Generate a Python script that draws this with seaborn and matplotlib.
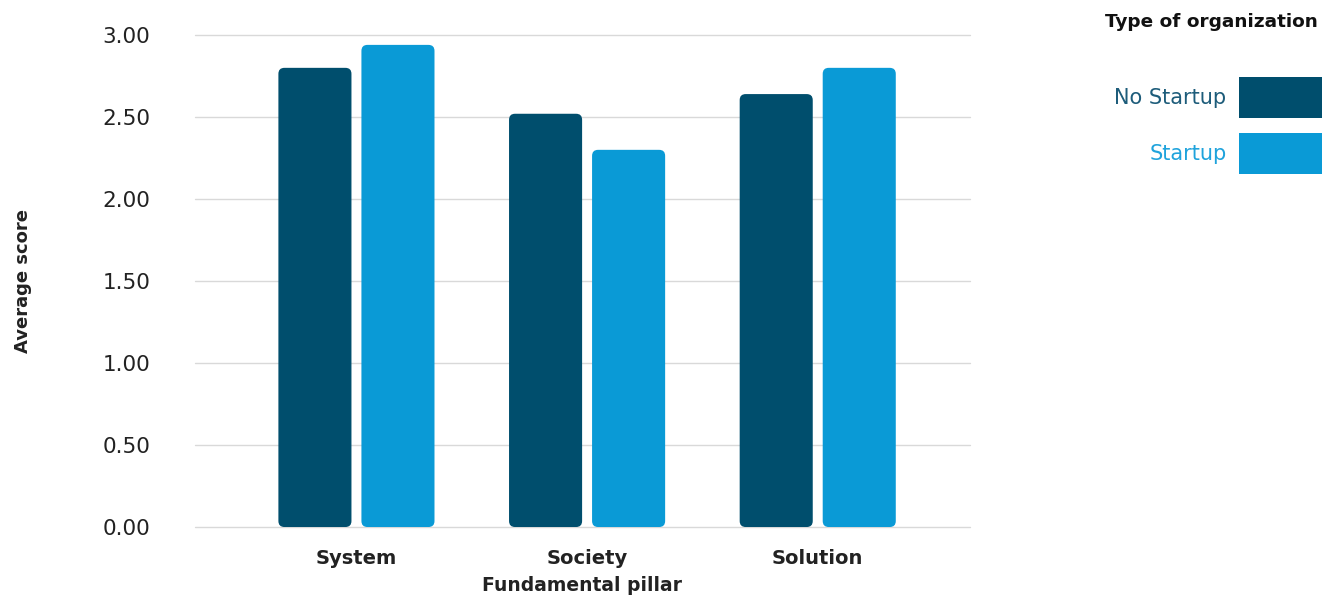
import matplotlib
matplotlib.use("Agg")
import matplotlib.pyplot as plt
import seaborn as sns
import pandas as pd
from matplotlib.patches import FancyBboxPatch, Patch

pillars = ["System", "Society", "Solution"]
org_types = ["No Startup", "Startup"]
no_startup = [2.80, 2.52, 2.64]
startup = [2.94, 2.30, 2.80]
yticks = [0.0, 0.5, 1.0, 1.5, 2.0, 2.5, 3.0]
colors = ["#004E6D", "#0A9AD6"]
label_colors = ["#1D5C7A", "#1FA3DC"]

df = pd.DataFrame({
    "pillar": pillars * 2,
    "type": [org_types[0]] * 3 + [org_types[1]] * 3,
    "score": no_startup + startup,
})

sns.set_theme(style="white")
plt.rcParams['font.family'] = ['DejaVu Sans']

fig = plt.figure(figsize=(13.22, 5.98), dpi=100)
ax = fig.add_axes([0.1475, 0.1187, 0.5862, 0.8227])
sns.barplot(data=df, x="pillar", y="score", hue="type", order=pillars,
            hue_order=org_types, palette=colors, width=0.72, gap=0.12,
            saturation=1, ax=ax, legend=False)
ax.set_xlim(-0.70, 2.66)
ax.set_ylim(0, 3.0)

# rounded bars
fig.canvas.draw()
px_x = ax.transData.transform((1, 0))[0] - ax.transData.transform((0, 0))[0]
px_y = ax.transData.transform((0, 1))[1] - ax.transData.transform((0, 0))[1]
aspect = px_x / px_y
r = 6 / px_x
for p in list(ax.patches):
    x, y, w, h = p.get_x(), p.get_y(), p.get_width(), p.get_height()
    fc = p.get_facecolor()
    p.remove()
    ax.add_patch(FancyBboxPatch((x, y), w, h,
                                boxstyle=f"round,pad=0,rounding_size={r}",
                                mutation_aspect=aspect, fc=fc, ec="none", zorder=3))

ax.set_yticks(yticks)
ax.set_yticklabels([f"{v:.2f}" for v in yticks])
ax.yaxis.grid(True, color="#d9d9d9", lw=1)
for gl in ax.get_ygridlines():
    gl.set_clip_on(False)
ax.set_axisbelow(True)
for s in ax.spines.values():
    s.set_visible(False)
ax.tick_params(axis="y", length=0, pad=32, labelsize=15.5, labelcolor="#222222")
ax.tick_params(axis="x", length=0, pad=15.5, labelsize=14, labelcolor="#222222")
for t in ax.get_xticklabels():
    t.set_fontweight("bold")

ax.set_xlabel("Fundamental pillar", fontsize=13.5, fontweight="bold", color="#222222", labelpad=6)
ax.set_ylabel("Average score", fontsize=13, fontweight="bold", color="#222222")
ax.yaxis.set_label_coords(-0.210, 0.5)

fig.text(1318 / 1322, 1 - 22 / 598, "Type of organization", ha="right", va="center",
         fontsize=13.3, fontweight="bold", color="#111111")

handles = [Patch(facecolor=c, edgecolor="none") for c in colors]
leg = fig.legend(handles, org_types, loc="upper right", bbox_to_anchor=(1.0, 1 - 77 / 598),
                 bbox_transform=fig.transFigure, frameon=False, markerfirst=False,
                 fontsize=15, handlelength=4.0, handleheight=2.656, labelspacing=0.72,
                 handletextpad=0.58, borderpad=0, borderaxespad=0)
for t, c in zip(leg.get_texts(), label_colors):
    t.set_color(c)

fig.savefig("out.png", dpi=100)
